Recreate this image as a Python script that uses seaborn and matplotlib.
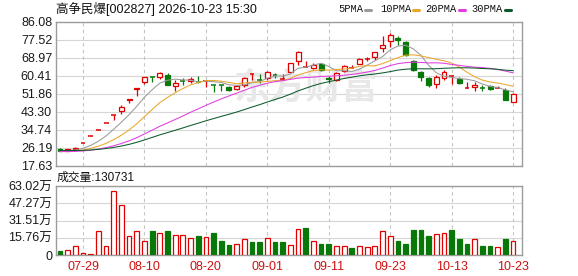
import numpy as np
import pandas as pd
import matplotlib
matplotlib.use("Agg")
import matplotlib.pyplot as plt
from matplotlib.lines import Line2D
import seaborn as sns

# ---------------- data ----------------
title = "高争民爆[002827] 2026-10-23 15:30"
vol_title = "成交量:130731"
dates = ["07-29", "08-10", "08-20", "09-01", "09-11", "09-23", "10-13", "10-23"]
date_pos = [3, 11, 19, 27, 35, 43, 51, 59]

open_ = [25.6, 24.7, 25.5, 28.6, 31.5, 34.6, 38.1, 41.8, 43.4, 49.0,
         54.2, 57.5, 59.6, 59.6, 60.7, 55.5, 57.9, 57.9, 57.2, 57.8,
         55.9, 55.9, 54.8, 53.9, 55.9, 60.9, 58.4, 59.1, 60.8, 58.5,
         62.3, 67.5, 64.5, 63.9, 65.8, 59.4, 58.5, 62.8, 63.8, 66.0,
         68.3, 69.4, 73.7, 77.0, 78.2, 76.3, 67.1, 62.3, 59.1, 56.3,
         59.1, 60.1, 58.7, 54.4, 55.2, 54.8, 55.5, 54.3, 53.6, 48.0]
high = [25.8, 25.7, 26.3, 28.6, 31.5, 34.6, 38.1, 41.9, 46.4, 49.2,
        54.4, 59.8, 59.7, 62.3, 61.8, 58.3, 59.1, 59.9, 60.3, 57.9,
        56.0, 56.0, 55.3, 55.9, 59.5, 61.0, 61.0, 62.4, 61.8, 61.0,
        66.6, 72.3, 67.4, 66.2, 66.5, 60.2, 62.0, 65.6, 65.5, 68.8,
        69.2, 71.8, 79.3, 80.6, 79.4, 77.0, 67.9, 62.6, 59.6, 60.7,
        63.1, 60.2, 59.5, 57.5, 57.5, 56.0, 56.0, 55.5, 54.4, 52.0]
low = [24.4, 24.6, 25.4, 28.6, 31.5, 34.6, 38.1, 39.3, 42.3, 47.5,
       50.7, 56.4, 57.2, 58.7, 55.8, 53.3, 56.0, 56.8, 57.0, 55.2,
       52.8, 53.0, 53.2, 53.5, 55.1, 58.3, 56.9, 58.5, 59.1, 58.5,
       62.0, 65.6, 64.4, 63.5, 62.8, 56.8, 58.0, 62.3, 63.8, 65.8,
       67.4, 67.9, 71.8, 74.2, 75.0, 69.8, 62.6, 58.0, 55.2, 54.7,
       58.3, 56.3, 56.6, 54.4, 53.1, 53.1, 53.6, 54.3, 48.6, 48.0]
close = [24.6, 25.6, 26.0, 28.6, 31.5, 34.6, 38.1, 41.9, 45.6, 49.2,
         54.4, 59.6, 59.5, 61.5, 55.9, 57.1, 57.8, 59.0, 57.1, 57.9,
         55.8, 55.8, 53.7, 55.5, 59.1, 61.0, 58.3, 62.0, 60.7, 58.6,
         66.3, 71.8, 64.6, 65.6, 63.0, 58.7, 61.5, 64.8, 63.9, 68.4,
         68.4, 71.5, 75.0, 79.9, 77.4, 70.2, 63.1, 59.6, 56.0, 59.9,
         62.0, 60.2, 56.8, 54.5, 56.0, 54.7, 54.1, 54.4, 48.8, 51.8]
# closes of the 29 sessions before the window (feed the moving averages)
hist_close = [26.5, 26.4, 26.2, 26.3, 26.0, 25.9, 26.1, 25.8, 25.6, 25.5,
              24.9, 24.6, 24.3, 24.2, 24.1, 24.3, 24.2, 24.0, 24.1, 24.3,
              24.2, 24.0, 24.1, 24.2, 24.3, 24.4, 24.2, 24.5, 24.8]
volume_wan = [3.6, 4.4, 7.9, 1.8, 0.9, 21.9, 8.0, 58.2, 45.9, 17.4,
              21.9, 12.9, 21.9, 20.1, 21.9, 18.3, 18.3, 15.5, 17.4, 16.5,
              20.1, 12.8, 9.1, 10.0, 14.6, 11.9, 11.9, 15.5, 11.9, 11.9,
              9.1, 23.7, 25.0, 12.8, 10.0, 10.0, 8.2, 8.2, 6.4, 8.2,
              7.6, 8.2, 21.9, 17.4, 12.8, 10.0, 22.8, 22.8, 17.4, 19.2,
              20.1, 22.8, 14.6, 10.0, 14.6, 8.2, 8.2, 7.3, 14.6, 13.07]
vol_up = [0, 1, 1, 1, 1, 1, 1, 1, 1, 1,
          1, 1, 0, 1, 0, 1, 1, 1, 0, 1,
          0, 0, 0, 1, 1, 0, 0, 1, 0, 0,
          1, 1, 0, 1, 0, 0, 1, 1, 0, 1,
          1, 1, 1, 1, 0, 0, 0, 0, 0, 1,
          1, 0, 0, 0, 1, 0, 0, 1, 0, 1]
price_ticks = [17.63, 26.19, 34.74, 43.30, 51.86, 60.41, 68.97, 77.52, 86.08]
vol_ticks = [0, 15.76, 31.51, 47.27, 63.02]
ma_names = ["5PMA", "10PMA", "20PMA", "30PMA"]
ma_windows = [5, 10, 20, 30]
ma_colors = ["#9a9a9a", "#eaa62a", "#e23ce2", "#0c5a2c"]

RED = "#e00000"
GREEN = "#087808"
GRID = "#d6d6d6"
SPINE = "#9c9c9c"

# ---------------- figure ----------------
sns.set_style("white")
plt.rcParams["font.family"] = ["Liberation Sans", "Noto Sans CJK SC", "DejaVu Sans"]

W, H = 578, 276
fig = plt.figure(figsize=(W / 100, H / 100), dpi=100)
L, R = 55.7, 522.3
ax = fig.add_axes([L / W, 1 - 165.7 / H, (R - L) / W, (165.7 - 21.5) / H])
axv = fig.add_axes([L / W, 1 - 255 / H, (R - L) / W, (255 - 186) / H])

n = len(close)
xs = np.arange(n)

# moving averages via seaborn
all_close = pd.Series(hist_close + close)
rows = []
for name, win in zip(ma_names, ma_windows):
    ma = all_close.rolling(win).mean().iloc[len(hist_close):].to_numpy()
    rows.append(pd.DataFrame({"idx": xs, "value": ma, "ma": name}))
ma_df = pd.concat(rows, ignore_index=True)
sns.lineplot(data=ma_df, x="idx", y="value", hue="ma", palette=dict(zip(ma_names, ma_colors)),
             legend=False, ax=ax, linewidth=0.75, zorder=5)

# candles
w = 0.64
for i in range(n):
    o, h, l, c = open_[i], high[i], low[i], close[i]
    up = c >= o
    col = RED if up else GREEN
    ax.vlines(i, l, h, color=col, lw=0.9, zorder=3)
    if abs(c - o) < 0.15:
        ax.hlines((o + c) / 2, i - w / 2, i + w / 2, color=col, lw=1.1, zorder=4)
    else:
        ax.bar(i, abs(c - o), bottom=min(o, c), width=w,
               facecolor="white" if up else col, edgecolor=col, lw=0.9, zorder=4)

# volume
for i in range(n):
    col = RED if vol_up[i] else GREEN
    axv.bar(i, volume_wan[i], width=0.62, facecolor="white" if vol_up[i] else col,
            edgecolor=col, lw=0.9, zorder=3)

for a in (ax, axv):
    a.set_xlim(-0.56, 60.2)
    for p in date_pos:
        a.axvline(p, color="#c4c4c4", ls=(0, (3, 3)), lw=0.8, zorder=0.6)
    for s in a.spines.values():
        s.set_color(SPINE)
        s.set_linewidth(1.0)
    a.set_xlabel("")
    a.set_ylabel("")

ax.set_ylim(price_ticks[0], price_ticks[-1])
ax.set_yticks(price_ticks)
ax.set_yticklabels([f"{t:.2f}" for t in price_ticks])
ax.yaxis.grid(True, color=GRID, lw=0.8, zorder=0.5)
ax.set_axisbelow(True)
ax.set_xticks([])
ax.tick_params(axis="y", length=0, pad=2.5, labelsize=9, labelcolor="#1a1a1a")

axv.set_ylim(vol_ticks[0], vol_ticks[-1])
axv.set_yticks(vol_ticks)
axv.set_yticklabels([f"{t:.2f}万" if t > 0 else "0" for t in vol_ticks])
axv.yaxis.grid(True, color=GRID, lw=0.8, zorder=0.5)
axv.set_axisbelow(True)
axv.set_xticks(date_pos)
axv.set_xticklabels(dates)
axv.tick_params(axis="y", length=0, pad=2.5, labelsize=9, labelcolor="#1a1a1a")
axv.tick_params(axis="x", length=0, pad=4, labelsize=9, labelcolor="#cc1111")

# watermark
ax.text((306 - L) / (R - L), 1 - (88 - 21.5) / 144.2, "东方财富", transform=ax.transAxes,
        fontsize=26, fontweight="bold", color="#e8e8e8", ha="center", va="center",
        zorder=1, family=["Noto Sans CJK SC"])

# title & volume label
fig.text(56 / W, 1 - 9 / H, title, ha="left", va="center", fontsize=9, color="#111111")
fig.text(57 / W, 1 - 178 / H, vol_title, ha="left", va="center", fontsize=8.5, color="#111111")

# legend
leg_text_x = [338.7, 380.0, 425.7, 471.7]
leg_dash_x = [(365.2, 371.2), (412.5, 419.0), (459.0, 465.0), (505.0, 511.0)]
for name, col, tx, (d0, d1) in zip(ma_names, ma_colors, leg_text_x, leg_dash_x):
    fig.text(tx / W, 1 - 9 / H, name, ha="left", va="center", fontsize=7.5,
             family=["Liberation Mono"], color="#111111")
    fig.add_artist(Line2D([d0 / W, d1 / W], [1 - 9.5 / H, 1 - 9.5 / H],
                          transform=fig.transFigure, color=col, lw=2.2))

fig.savefig("out.png", dpi=100)
